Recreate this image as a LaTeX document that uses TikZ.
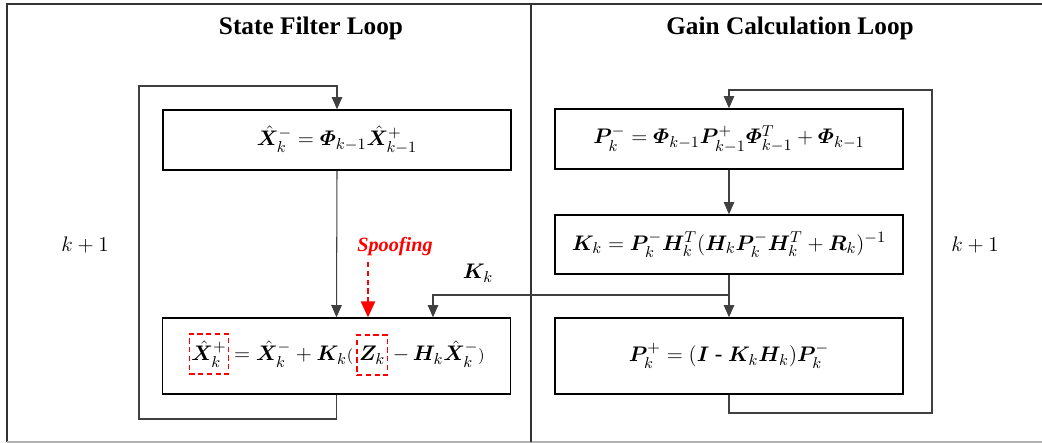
\documentclass[tikz,border=0pt]{standalone}
\usepackage{amsmath,bm}
\usepackage{fontspec}
\setmainfont{Liberation Serif}
\usetikzlibrary{arrows.meta,positioning}

\tikzset{
  eqfont/.style={font=\fontsize{13}{16}\selectfont},
  eqbox/.style={draw, line width=0.8pt, minimum width=6.96cm, inner sep=0pt, eqfont},
  spoofbox/.style={draw=red, densely dashed, line width=0.9pt, inner sep=1.2pt, minimum height=0.8cm, eqfont},
  link/.style={draw=black!75, line width=0.6pt},
}
\newcommand{\xh}{\hat{\bm X}}

\begin{document}
\begin{tikzpicture}[x=0.02cm, y=-0.02cm, >={Triangle[length=7pt,width=6pt]}]
    \useasboundingbox (0,0) rectangle (1042,443);
    % frame
    \draw[black!80, line width=0.8pt] (7,442) -- (7,4) -- (1042,4);
    \draw[black!30, line width=0.7pt] (7,442) -- (1042,442);
    \draw[black!80, line width=0.7pt] (531,4) -- (531,442);

    \node[font=\bfseries\fontsize{14.4}{17}\selectfont] (tleft) at (311,28) {State Filter Loop};
    \node[font=\bfseries\fontsize{14.4}{17}\selectfont] (tright) at (790,28) {Gain Calculation Loop};

    % state filter loop
    \node[eqbox, minimum height=1.2cm] (lt) at (337,140) {$\xh_k^- = \bm{\varPhi}_{k-1}\xh_{k-1}^+$};
    \node[eqbox, minimum height=1.52cm] (lb) at (336.5,356) {};
    \node[spoofbox] (xp) at (209,354) {$\xh_k^+$};
    \node[anchor=base west, inner sep=0pt, eqfont] (eq1) at ([xshift=2.5pt]xp.base east) {$=\xh_k^- + \bm K_k{\scriptstyle(}$};
    \node[spoofbox, anchor=base west] (zk) at ([xshift=1.5pt]eq1.base east) {$\bm Z_k$};
    \node[anchor=base west, inner sep=0pt, eqfont] (eq2) at ([xshift=2.5pt]zk.base east) {$-\,\bm H_k\xh_k^-{\scriptstyle)}$};

    \coordinate (lbot) at (139,419);
    \coordinate (ltop) at (139,86);
    \draw[link, ->] (lb.south) |- (lbot) -- (ltop) -| (lt.north);
    \draw[link, ->] (lt.south) -- (lb.north);

    % gain calculation loop
    \node[eqbox, minimum height=1.2cm] (rt) at (729,139) {$\bm P_k^- = \bm{\varPhi}_{k-1}\bm P_{k-1}^+\bm{\varPhi}_{k-1}^T + \bm{\varPhi}_{k-1}$};
    \node[eqbox, minimum height=1.18cm] (rm) at (729,244.5) {$\bm K_k = \bm P_k^-\bm H_k^T(\bm H_k\bm P_k^-\bm H_k^T + \bm R_k)^{-1}$};
    \node[eqbox, minimum height=1.52cm] (rb) at (729,356) {$\bm P_k^+ = (\bm I\ \text{-}\ \bm K_k\bm H_k)\bm P_k^-$};

    \coordinate (rbot) at (932,413);
    \coordinate (rtop) at (932,90);
    \draw[link, ->] (rb.south) |- (rbot) -- (rtop) -| (rt.north);
    \draw[link, ->] (rt.south) -- (rm.north);
    \draw[link, ->] (rm.south) -- (rb.north);

    % gain into state filter
    \coordinate (kb) at (729,295);
    \coordinate (kx) at (433,295);
    \draw[link, ->] (kb) -- (kx) -- (kx |- lb.north);
    \node[eqfont] (klabel) at (478,273) {$\bm K_k$};

    % spoofing
    \node[text=red, font=\bfseries\itshape\fontsize{11.5}{14}\selectfont] (spoof) at (395,247) {Spoofing};
    \coordinate (sp) at (368,262);
    \draw[red, densely dashed, line width=1.2pt, -{Triangle[length=9pt,width=8pt]}] (sp) -- (sp |- lb.north);

    \node[font=\fontsize{12.5}{15}\selectfont] (kl) at (85,245) {$k+1$};
    \node[font=\fontsize{12.5}{15}\selectfont] (kr) at (975,245) {$k+1$};
\end{tikzpicture}
\end{document}
